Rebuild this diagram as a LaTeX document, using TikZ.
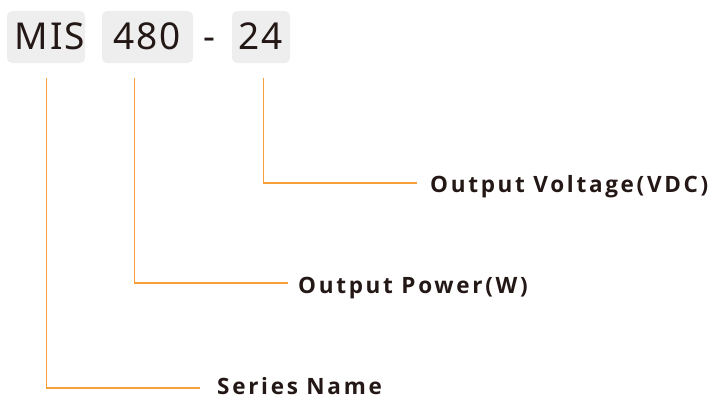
\documentclass[tikz,border=0pt]{standalone}
\usepackage{fontspec}
\setmainfont{Noto Sans}
\newfontfamily\bigfont[LetterSpace=5]{Noto Sans}
\newfontfamily\labfont[LetterSpace=12]{Open Sans}
\definecolor{lineorange}{HTML}{F5A03A}
\definecolor{boxgray}{HTML}{EEEEEE}
\definecolor{txt}{HTML}{231815}
\tikzset{
  codebox/.style={fill=boxgray, rounded corners=5pt},
  codetext/.style={anchor=base, text=txt, inner sep=0pt, font=\bigfont\fontsize{37}{37}\selectfont},
  lead/.style={draw=lineorange, line width=1.1pt},
  labeltext/.style={anchor=base west, text=txt, inner sep=0pt, font=\labfont\fontsize{22.5}{22.5}\selectfont\bfseries}
}
\begin{document}
\begin{tikzpicture}[x=1pt,y=-1pt]
\useasboundingbox (0,0) rectangle (720,397);
\fill[codebox] (7,11) rectangle (85,63);
\fill[codebox] (102,11) rectangle (193,63);
\fill[codebox] (232,11) rectangle (290,63);
\node[codetext] (mis) at (50,49) {MIS};
\node[codetext] (pw) at (147,49) {480};
\node[codetext] (dash) at (209,49) {-};
\node[codetext] (vo) at (261,49) {24};
\coordinate (a0) at (46.5,78);
\coordinate (a1) at (46.5,388);
\coordinate (a2) at (200,388);
\coordinate (b0) at (134.5,78);
\coordinate (b1) at (134.5,283);
\coordinate (b2) at (288,283);
\coordinate (c0) at (263.5,78);
\coordinate (c1) at (263.5,183);
\coordinate (c2) at (417,183);
\draw[lead] (a0) -- (a1) -- (a2);
\draw[lead] (b0) -- (b1) -- (b2);
\draw[lead] (c0) -- (c1) -- (c2);
\node[labeltext] (sn) at (217,394) {Series Name};
\node[labeltext] (op) at (298,293) {Output Power(W)};
\node[labeltext] (ov) at (430,192) {Output Voltage(VDC)};
\end{tikzpicture}
\end{document}
